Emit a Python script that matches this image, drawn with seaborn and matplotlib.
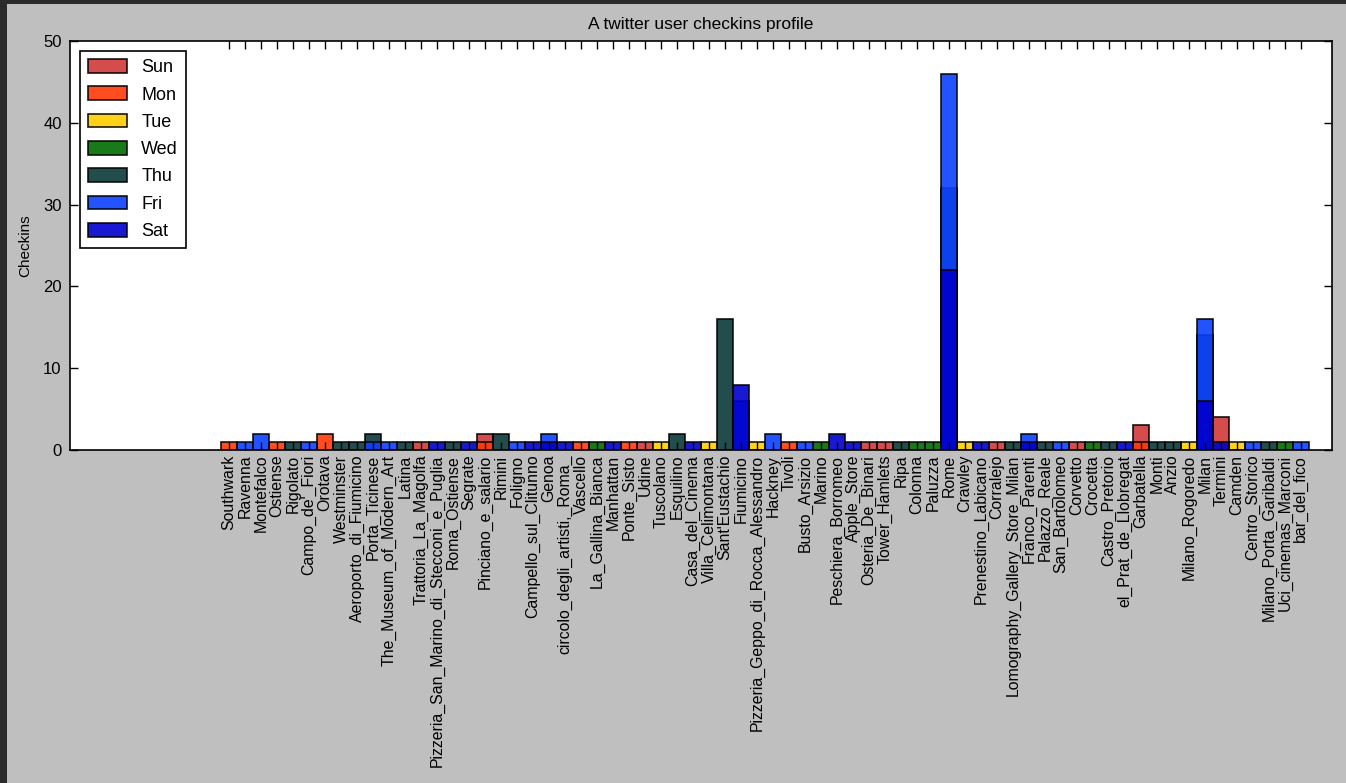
import matplotlib
matplotlib.use("Agg")
import matplotlib.pyplot as plt
from matplotlib.patches import Patch, Rectangle
import seaborn as sns
import pandas as pd

venues = ["Southwark", "Ravenna", "Montefalco", "Ostiense", "Rigolato", "Campo_de'_Fiori",
          "Orotava", "Westminster", "Aeroporto_di_Fiumicino", "Porta_Ticinese",
          "The_Museum_of_Modern_Art", "Latina", "Trattoria_La_Magolfa",
          "Pizzeria_San_Marino_di_Stecconi_e_Puglia", "Roma_Ostiense", "Segrate",
          "Pinciano_e_salario", "Rimini", "Foligno", "Campello_sul_Clitunno", "Genoa",
          "circolo_degli_artisti,_Roma_", "Vascello", "La_Gallina_Bianca", "Manhattan",
          "Ponte_Sisto", "Udine", "Tuscolano", "Esquilino", "Casa_del_Cinema",
          "Villa_Celimontana", "Sant'Eustachio", "Fiumicino",
          "Pizzeria_Geppo_di_Rocca_Alessandro", "Hackney", "Tivoli", "Busto_Arsizio",
          "Marino", "Peschiera_Borromeo", "Apple_Store", "Osteria_De_Binari",
          "Tower_Hamlets", "Ripa", "Colonna", "Paluzza", "Rome", "Crawley",
          "Prenestino_Labicano", "Corralejo", "Lomography_Gallery_Store_Milan",
          "Franco_Parenti", "Palazzo_Reale", "San_Bartolomeo", "Corvetto", "Crocetta",
          "Castro_Pretorio", "el_Prat_de_Llobregat", "Garbatella", "Monti", "Anzio",
          "Milano_Rogoredo", "Milan", "Termini", "Camden", "Centro_Storico",
          "Milano_Porta_Garibaldi", "Uci_cinemas_Marconi", "bar_del_fico"]

days = ["Sun", "Mon", "Tue", "Wed", "Thu", "Fri", "Sat"]

# checkins per venue for each day (venue order as above)
sun = {"Trattoria_La_Magolfa": 1, "Pinciano_e_salario": 2, "Udine": 1, "Osteria_De_Binari": 1,
       "Tower_Hamlets": 1, "Corralejo": 1, "Corvetto": 1, "Garbatella": 3, "Termini": 4}
mon = {"Southwark": 1, "Ostiense": 1, "Orotava": 2, "Pinciano_e_salario": 1, "Vascello": 1,
       "Ponte_Sisto": 1, "Tivoli": 1, "Garbatella": 1}
tue = {"Tuscolano": 1, "Villa_Celimontana": 1, "Pizzeria_Geppo_di_Rocca_Alessandro": 1,
       "Crawley": 1, "Milano_Rogoredo": 1, "Camden": 1}
wed = {"La_Gallina_Bianca": 1, "Marino": 1, "Colonna": 1, "Paluzza": 1, "Crocetta": 1,
       "Uci_cinemas_Marconi": 1}
thu = {"Rigolato": 1, "Westminster": 1, "Aeroporto_di_Fiumicino": 1, "Porta_Ticinese": 2,
       "Latina": 1, "Roma_Ostiense": 1, "Rimini": 2, "Esquilino": 2, "Sant'Eustachio": 16,
       "Ripa": 1, "Rome": 32, "Lomography_Gallery_Store_Milan": 1, "Palazzo_Reale": 1,
       "Castro_Pretorio": 1, "Monti": 1, "Anzio": 1, "Milan": 14, "Milano_Porta_Garibaldi": 1}
fri = {"Ravenna": 1, "Montefalco": 2, "Campo_de'_Fiori": 1, "Porta_Ticinese": 1,
       "The_Museum_of_Modern_Art": 1, "Foligno": 1, "Genoa": 2, "Fiumicino": 6, "Hackney": 2,
       "Busto_Arsizio": 1, "Rome": 46, "Franco_Parenti": 2, "San_Bartolomeo": 1, "Milan": 16,
       "Centro_Storico": 1, "bar_del_fico": 1}
sat = {"Pizzeria_San_Marino_di_Stecconi_e_Puglia": 1, "Segrate": 1, "Campello_sul_Clitunno": 1,
       "Genoa": 1, "circolo_degli_artisti,_Roma_": 1, "Manhattan": 1, "Casa_del_Cinema": 1,
       "Fiumicino": 8, "Peschiera_Borromeo": 2, "Apple_Store": 1, "Rome": 22,
       "Prenestino_Labicano": 1, "Franco_Parenti": 1, "el_Prat_de_Llobregat": 1, "Milan": 6,
       "Termini": 1}

day_counts = [sun, mon, tue, wed, thu, fri, sat]
colors = ["#d13838", "#ff3a08", "#ffcc00", "#006c00", "#0a3a38", "#0a40ff", "#0000cc"]
y_ticks = [0, 10, 20, 30, 40, 50]

plt.rcParams["font.family"] = ["Liberation Sans", "DejaVu Sans"]

fig = plt.figure(figsize=(13.46, 7.83), dpi=100, facecolor="#2b2b2b")
fig.patches.append(Rectangle((7 / 1346, 0), 1, 1 - 4 / 783, transform=fig.transFigure,
                             facecolor="#bfbfbf", edgecolor="none", zorder=-10))
ax = fig.add_axes([70 / 1346, 1 - 450 / 783, (1332 - 70) / 1346, (450 - 41) / 783])
ax.set_zorder(5)
ax.set_facecolor("white")

for d, counts, c in zip(days, day_counts, colors):
    df = pd.DataFrame({"venue": list(counts.keys()), "checkins": list(counts.values())})
    sns.barplot(data=df, x="venue", y="checkins", order=venues, color=c, saturation=1,
                width=1.0, alpha=0.9, edgecolor="black", linewidth=1.2, errorbar=None, ax=ax)

ax.set_xlim(-9.95, len(venues) - 1 + 1.95)
ax.set_ylim(0, 50)
ax.set_yticks(y_ticks)
ax.set_xticks(range(len(venues)))
ax.set_xticklabels(venues, rotation=90, fontsize=11.4)
ax.tick_params(axis="both", direction="in", length=5.8, width=1, top=True, right=True,
               colors="black")
ax.tick_params(axis="x", pad=3.5)
ax.tick_params(axis="y", labelsize=12, pad=6)
for s in ax.spines.values():
    s.set_color("black")
    s.set_linewidth(1.2)
ax.grid(False)
ax.set_xlabel("")
ax.set_ylabel("Checkins", fontsize=11)
ax.yaxis.set_label_coords(-0.030, 0.5)
ax.set_title("A twitter user checkins profile", fontsize=12.5, pad=9)

handles = [Patch(facecolor=c, alpha=0.9, edgecolor="black", linewidth=1.2, label=d)
           for d, c in zip(days, colors)]
leg = ax.legend(handles=handles, loc="upper left", fontsize=13, frameon=True, fancybox=False,
                framealpha=1, edgecolor="black", labelspacing=0.56, handlelength=2.15,
                handleheight=0.8, handletextpad=0.8, borderpad=0.45, borderaxespad=0.55)
leg.get_frame().set_linewidth(1.2)

fig.savefig("out.png", dpi=100, facecolor=fig.get_facecolor())
